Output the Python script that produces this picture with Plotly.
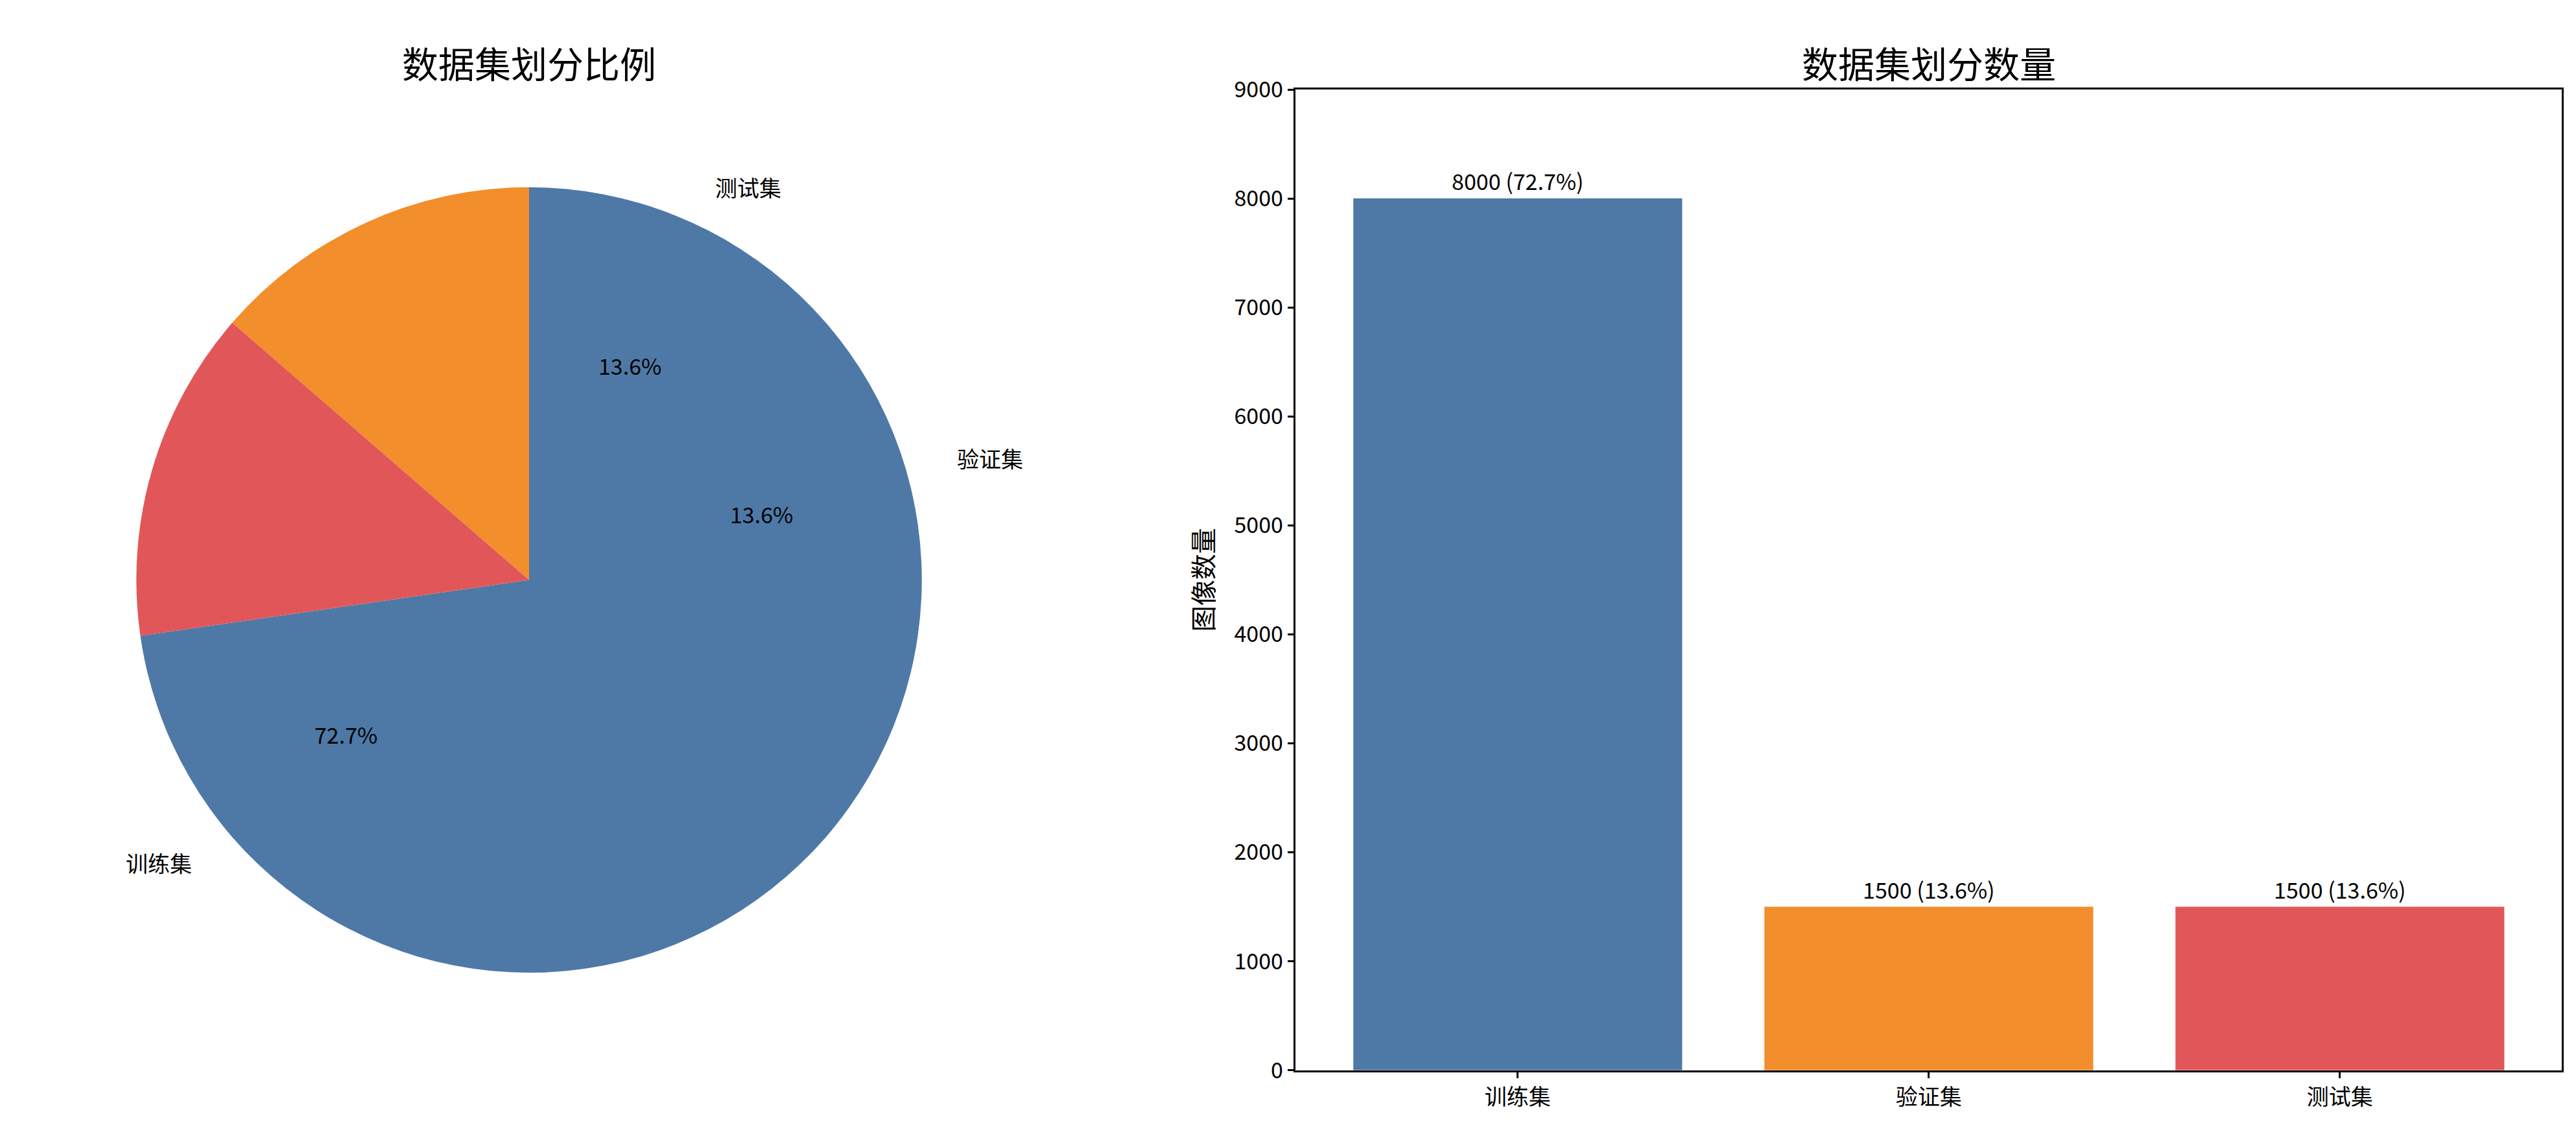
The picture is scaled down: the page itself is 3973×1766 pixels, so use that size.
import math
import plotly.graph_objects as go

categories = ["训练集", "验证集", "测试集"]
counts = [8000, 1500, 1500]
colors = ["#4e79a7", "#f28e2b", "#e15759"]
yticks = [0, 1000, 2000, 3000, 4000, 5000, 6000, 7000, 8000, 9000]

W, H = 3973, 1766
FONT = "Noto Sans CJK SC"
total = sum(counts)
pcts = [c / total * 100 for c in counts]

# pie geometry (pixels)
cx, cy, R = 808, 884, 623
fig = go.Figure()
fig.add_trace(go.Pie(
    labels=categories, values=counts, sort=False, direction="counterclockwise",
    rotation=0, marker=dict(colors=colors), textinfo="none", hoverinfo="label+percent",
    domain=dict(x=[(cx - R) / W, (cx + R) / W], y=[(H - cy - R) / H, (H - cy + R) / H]),
    showlegend=False,
))

ann = []
start = 90.0
for lab, p in zip(categories, pcts):
    span = p / 100 * 360
    mid = math.radians(start + span / 2)
    start += span
    for f, txt in [(0.6, f"{p:.1f}%"), (1.1, lab)]:
        x = (cx + R * f * math.cos(mid)) / W
        y = (H - cy + R * f * math.sin(mid)) / H
        xa = "center"
        if f > 1:
            xa = "left" if math.cos(mid) > 0 else "right"
        ann.append(dict(x=x, y=y, xref="paper", yref="paper", text=txt, showarrow=False,
                        xanchor=xa, yanchor="middle", font=dict(size=34, color="black", family=FONT)))

ann.append(dict(x=cx / W, y=0.965, xref="paper", yref="paper", text="数据集划分比例", showarrow=False,
                font=dict(size=56, color="black", family=FONT), xanchor="center", yanchor="middle"))
ann.append(dict(x=(0.501 + 0.9925) / 2, y=0.965, xref="paper", yref="paper", text="数据集划分数量",
                showarrow=False, font=dict(size=56, color="black", family=FONT), xanchor="center", yanchor="middle"))

fig.add_trace(go.Bar(
    x=categories, y=counts, marker=dict(color=colors, line=dict(width=0)), width=0.8,
    text=[f"{c} ({p:.1f}%)" for c, p in zip(counts, pcts)], textposition="outside",
    textfont=dict(size=34, color="black", family=FONT), cliponaxis=False,
    xaxis="x", yaxis="y", showlegend=False,
))

axis_common = dict(showline=True, linecolor="black", linewidth=2.5, mirror=True, ticks="outside",
                   ticklen=10, tickwidth=2.5, tickcolor="black", showgrid=False, zeroline=False,
                   tickfont=dict(size=34, color="black", family=FONT))
fig.update_layout(
    width=W, height=H, paper_bgcolor="white", plot_bgcolor="white",
    margin=dict(l=0, r=0, t=0, b=0),
    xaxis=dict(domain=[0.501, 0.9925], range=[-0.54, 2.54], anchor="y", **axis_common),
    yaxis=dict(domain=[0.059, 0.940], range=[0, 9000], tickvals=yticks, anchor="x",
               title=dict(text="图像数量", font=dict(size=40, color="black", family=FONT), standoff=20),
               **axis_common),
    annotations=ann, bargap=0.2,
)
fig.write_html("out.html")
